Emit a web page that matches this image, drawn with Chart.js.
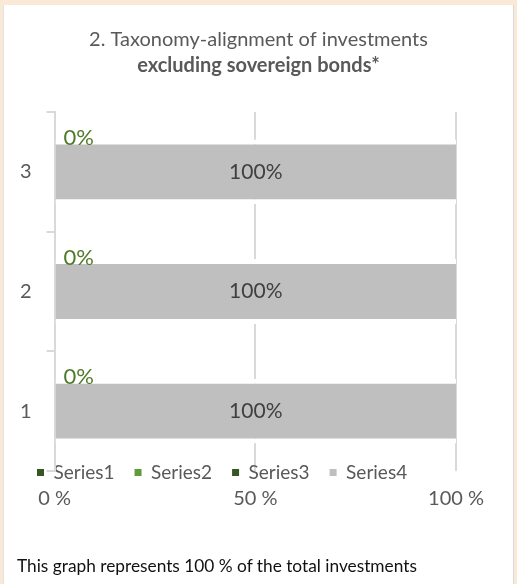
<!DOCTYPE html>
<html>
<head>
<meta charset="utf-8">
<script src="https://cdn.jsdelivr.net/npm/chart.js@4/dist/chart.umd.min.js"></script>
<style>
  html, body { margin:0; padding:0; }
  body { width:517px; height:584px; background:#FBE9D8; position:relative; overflow:hidden; font-family: Lato, sans-serif; }
  #panel { position:absolute; left:3px; top:5px; width:509px; height:579px; background:#fff; border-left:1px solid #e3e3e3; border-right:1px solid #d9d9d9; }
  #wrap { position:absolute; left:0; top:0; width:509px; height:579px; }
  #note { position:absolute; left:13px; top:550px; font: 17.3px Lato, sans-serif; color:#111; white-space:nowrap; }
</style>
</head>
<body>
<div id="panel">
  <div id="wrap"><canvas id="c"></canvas></div>
  <div id="note">This graph represents 100 % of the total investments</div>
</div>
<script>
const categories = ['1', '2', '3'];
const seriesNames = ['Series1', 'Series2', 'Series3', 'Series4'];
const series1 = [0, 0, 0];
const series2 = [0, 0, 0];
const series3 = [0, 0, 0];
const series4 = [100, 100, 100];
const xTickLabels = ['0 %', '50 %', '100 %'];
const titleLine1 = '2. Taxonomy-alignment of investments';
const titleLine2 = 'excluding sovereign bonds*';

const colors = ['#375623', '#5E9C3A', '#375623', '#BFBFBF'];

const valueLabels = {
  id: 'valueLabels',
  afterDatasetsDraw(chart) {
    const ctx = chart.ctx;
    ctx.save();
    const m4 = chart.getDatasetMeta(3);
    m4.data.forEach((bar, i) => {
      ctx.font = '21px Lato';
      ctx.fillStyle = '#404040';
      ctx.textAlign = 'center';
      ctx.textBaseline = 'middle';
      ctx.fillText(series4[i] + '%', (bar.x + bar.base) / 2, bar.y);
    });
    const m1 = chart.getDatasetMeta(0);
    m1.data.forEach((bar, i) => {
      ctx.font = '22px Lato';
      ctx.fillStyle = '#4F7A28';
      ctx.textAlign = 'left';
      ctx.textBaseline = 'alphabetic';
      ctx.fillText(series1[i] + '%', bar.base + 9, bar.y - 27);
    });
    ctx.restore();
  }
};

const fixLayout = {
  id: 'fixLayout',
  afterLayout(chart) {
    const lg = chart.legend;
    const w = lg.width;
    lg.top = chart.chartArea.bottom - 28;
    lg.bottom = lg.top + 60;
    lg.height = 60;
    lg.left = 13;
    lg.right = lg.left + w;
    chart.boxes.forEach(b => {
      if (b.options && (b.options.text === titleLine1 || b.options.text === titleLine2)) {
        b.left = 0;
        b.right = chart.width;
        b.width = chart.width;
      }
    });
  }
};

const mk = (label, data, i) => ({
  label, data,
  backgroundColor: colors[i],
  borderColor: '#ffffff',
  borderWidth: i === 3 ? {top: 5, bottom: 5, left: 0, right: 0} : 0,
  borderSkipped: false
});

new Chart(document.getElementById('c'), {
  type: 'bar',
  data: {
    labels: categories,
    datasets: [
      mk(seriesNames[0], series1, 0),
      mk(seriesNames[1], series2, 1),
      mk(seriesNames[2], series3, 2),
      mk(seriesNames[3], series4, 3)
    ]
  },
  options: {
    indexAxis: 'y',
    responsive: true,
    maintainAspectRatio: false,
    animation: false,
    categoryPercentage: 1,
    barPercentage: 0.5417,
    layout: { padding: { left: 1, right: 57, top: 0, bottom: 37 } },
    scales: {
      x: {
        stacked: true, min: 0, max: 100,
        ticks: { stepSize: 50, padding: 16, color: '#595959', font: { family: 'Lato', size: 20 },
          callback: (v) => xTickLabels[Math.round(v / 50)] },
        grid: { color: '#D9D9D9', lineWidth: 2, drawTicks: false },
        border: { display: false }
      },
      y: {
        stacked: true, reverse: true,
        ticks: { padding: 15, color: '#595959', font: { family: 'Lato', size: 20 } },
        grid: { drawOnChartArea: false, drawTicks: true, tickLength: 8, color: '#D9D9D9', lineWidth: 2 },
        border: { color: '#D9D9D9', width: 2 }
      }
    },
    plugins: {
      title: { display: true, text: titleLine1, color: '#595959', font: { family: 'Lato', size: 20, weight: 'normal' }, padding: { top: 23, bottom: 2 } },
      subtitle: { display: true, text: titleLine2, color: '#595959', font: { family: 'Lato', size: 20, weight: 'bold' }, padding: { top: 0, bottom: 34 } },
      legend: {
        position: 'bottom', align: 'start', maxHeight: 20,
        labels: {
          boxWidth: 7, boxHeight: 7, padding: 20, color: '#595959', font: { family: 'Lato', size: 19 },
          generateLabels(chart) {
            const items = Chart.defaults.plugins.legend.labels.generateLabels(chart);
            items.forEach(it => { it.lineWidth = 0; it.strokeStyle = 'rgba(0,0,0,0)'; });
            return items;
          }
        }
      },
      tooltip: { enabled: false }
    }
  },
  plugins: [valueLabels, fixLayout]
});
</script>
</body>
</html>
